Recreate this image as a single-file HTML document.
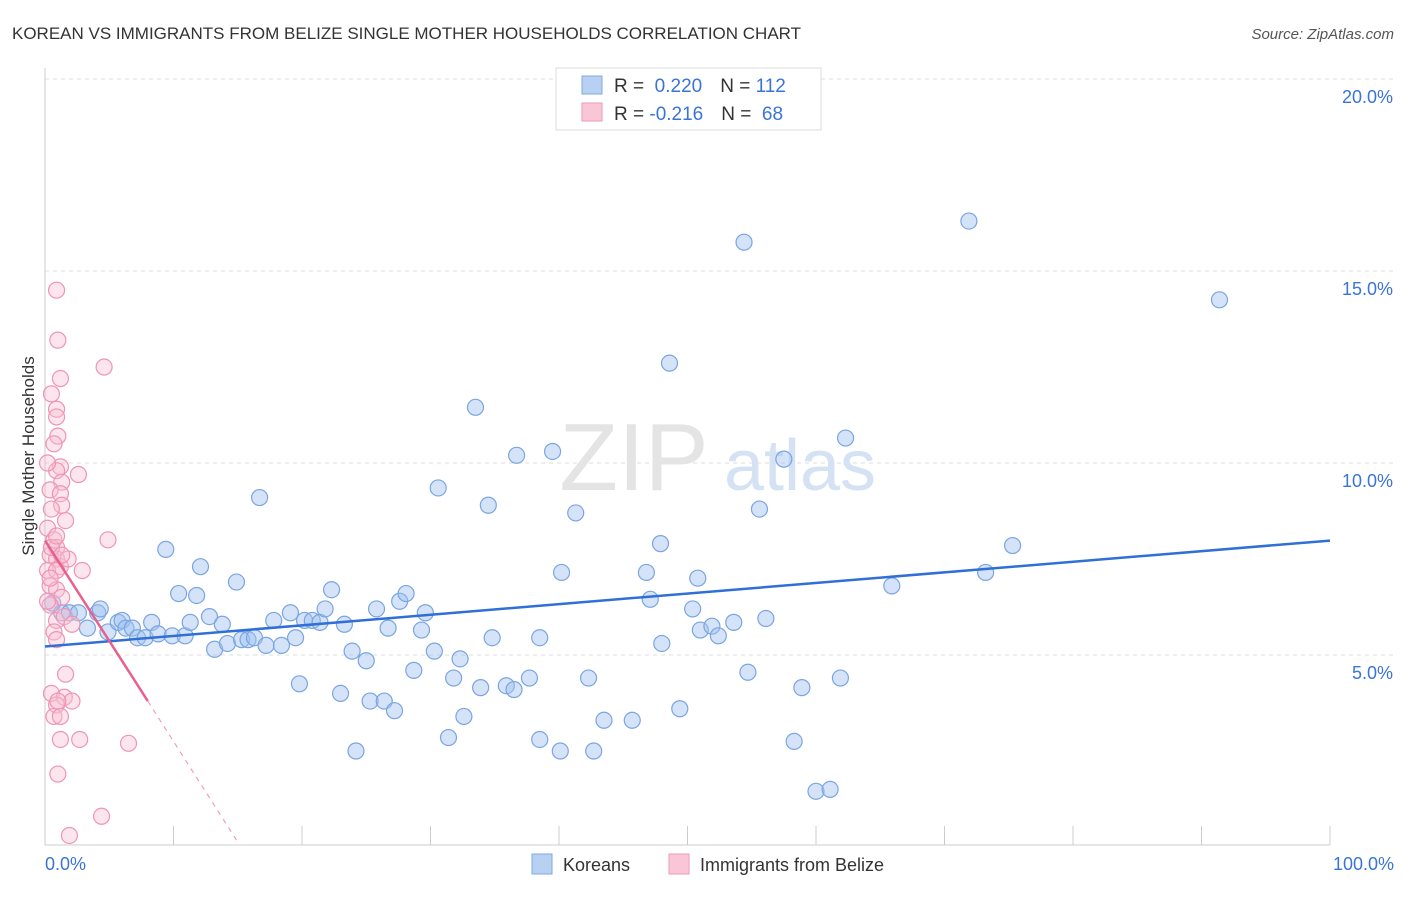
<!DOCTYPE html>
<html><head><meta charset="utf-8"><style>
body{margin:0;background:#fff;font-family:"Liberation Sans",sans-serif;}
svg text{font-family:"Liberation Sans",sans-serif;}
</style></head><body>
<svg width="1406" height="892" id="chart">
<text x="12" y="39" font-size="17" fill="#333">KOREAN VS IMMIGRANTS FROM BELIZE SINGLE MOTHER HOUSEHOLDS CORRELATION CHART</text>
<text x="1394" y="39" font-size="15" fill="#555" font-style="italic" text-anchor="end">Source: ZipAtlas.com</text>
<text x="34" y="456" font-size="17" fill="#333" text-anchor="middle" transform="rotate(-90 34 456)">Single Mother Households</text>
<g id="grid"></g>
<g><text x="634" y="490" font-size="96" fill="#e4e4e4" font-family="Liberation Serif" text-anchor="middle">ZIP</text><text x="800" y="490" font-size="72" fill="#d5e2f4" text-anchor="middle">atlas</text></g>
<line x1="45" y1="68" x2="45" y2="845" stroke="#ccc"/>
<line x1="45" y1="845" x2="1330" y2="845" stroke="#ccc"/>
<g id="xticks"></g>
<g id="pts"></g>
<g id="trends"></g>
<text x="45" y="870" font-size="18" fill="#3a74d6">0.0%</text>
<text x="1394" y="870" font-size="18" fill="#3a74d6" text-anchor="end">100.0%</text>
<g>
<rect x="556" y="68" width="265" height="62" fill="#fff" stroke="#ddd"/>
<rect x="582" y="76" width="20" height="18" fill="#b8d0f2" stroke="#7fa8e0"/>
<rect x="582" y="103" width="20" height="18" fill="#f8c6d6" stroke="#ef9ab6"/>
<text x="614" y="92" font-size="19" fill="#333">R = <tspan fill="#3a74d6">&#160;0.220</tspan><tspan dx="18">N = </tspan><tspan fill="#3a74d6">112</tspan></text>
<text x="614" y="120" font-size="19" fill="#333">R = <tspan fill="#3a74d6">-0.216</tspan><tspan dx="18">N = </tspan><tspan fill="#3a74d6">&#160;68</tspan></text>
</g>
<g>
<rect x="532" y="854" width="20" height="20" fill="#b8d0f2" stroke="#7fa8e0"/>
<text x="563" y="871" font-size="18" fill="#333">Koreans</text>
<rect x="669" y="854" width="20" height="20" fill="#f8c6d6" stroke="#ef9ab6"/>
<text x="700" y="871" font-size="18" fill="#333">Immigrants from Belize</text>
</g>
</svg>
<script>
const yTicks=[5,10,15,20];
const xTickVals=[0,10,20,30,40,50,60,70,80,90,100];
const koreansX=[0.6,1.3,1.9,2.6,3.3,4.1,4.3,4.9,5.7,6.0,6.3,6.8,7.2,7.8,8.3,8.8,9.4,9.9,10.4,10.9,11.3,11.8,12.1,12.8,13.2,13.8,14.2,14.9,15.3,15.8,16.3,16.7,17.2,17.8,18.4,19.1,19.5,19.8,20.2,20.8,21.4,21.8,22.3,23.0,23.3,23.9,24.2,25.0,25.3,25.8,26.4,26.7,27.2,27.6,28.1,28.7,29.3,29.6,30.3,30.6,31.4,31.8,32.3,32.6,33.5,33.9,34.5,34.8,35.9,36.5,36.7,37.7,38.5,38.5,39.5,40.1,40.2,41.3,42.3,42.7,43.5,45.7,46.8,47.1,47.9,48.0,48.6,49.4,50.4,50.8,51.0,51.9,52.4,53.6,54.4,54.7,55.6,56.1,57.5,58.3,58.9,60.0,61.1,61.9,62.3,65.9,71.9,73.2,75.3,91.4];
const koreansY=[6.35,6.1,6.1,6.1,5.7,6.1,6.2,5.6,5.85,5.9,5.7,5.7,5.45,5.45,5.85,5.55,7.75,5.5,6.6,5.5,5.85,6.55,7.3,6.0,5.15,5.8,5.3,6.9,5.4,5.4,5.45,9.1,5.25,5.9,5.25,6.1,5.45,4.25,5.9,5.9,5.85,6.2,6.7,4.0,5.8,5.1,2.5,4.85,3.8,6.2,3.8,5.7,3.55,6.4,6.6,4.6,5.65,6.1,5.1,9.35,2.85,4.4,4.9,3.4,11.45,4.15,8.9,5.45,4.2,4.1,10.2,4.4,2.8,5.45,10.3,2.5,7.15,8.7,4.4,2.5,3.3,3.3,7.15,6.45,7.9,5.3,12.6,3.6,6.2,7.0,5.65,5.75,5.5,5.85,15.75,4.55,8.8,5.95,10.1,2.75,4.15,1.45,1.5,4.4,10.65,6.8,16.3,7.15,7.85,14.25];
const belizeX=[0.9,1.0,1.2,0.5,0.9,0.9,1.0,0.7,1.2,0.9,1.3,0.4,1.2,1.3,1.6,2.6,4.6,4.9,0.2,0.7,0.9,0.4,0.9,1.2,1.8,0.2,0.9,2.9,0.4,0.9,1.3,0.4,0.9,1.5,2.1,0.7,0.9,1.6,0.5,1.5,2.1,0.9,0.7,1.2,1.2,2.7,6.5,1.0,1.9,4.4,0.2,0.5,0.4,1.0,1.3,0.5,0.2,0.9];
const belizeY=[14.5,13.2,12.2,11.8,11.4,11.2,10.7,10.5,9.9,9.8,9.5,9.3,9.2,8.9,8.5,9.7,12.5,8.0,8.3,8.0,7.8,7.6,7.5,7.3,7.5,7.2,7.2,7.2,6.8,6.7,6.5,6.3,5.9,6.0,5.8,5.6,5.4,4.5,4.0,3.9,3.8,3.7,3.4,3.4,2.8,2.8,2.7,1.9,0.3,0.8,6.4,7.8,7.0,3.8,7.6,8.8,10.0,8.1];
const ns="http://www.w3.org/2000/svg";
function sx(v){return 45+v*12.85;}
function sy(v){return 847-v*38.4;}
const grid=document.getElementById('grid');
yTicks.forEach(t=>{
 const l=document.createElementNS(ns,'line');
 l.setAttribute('x1',45);l.setAttribute('x2',1394);l.setAttribute('y1',sy(t));l.setAttribute('y2',sy(t));
 l.setAttribute('stroke','#ddd');l.setAttribute('stroke-dasharray','4,4');
 
 
 grid.appendChild(l);
 const tx=document.createElementNS(ns,'text');
 tx.setAttribute('x',1393);tx.setAttribute('y',sy(t)+24);tx.setAttribute('text-anchor','end');
 tx.setAttribute('font-size','18');tx.setAttribute('fill','#3a74d6');tx.textContent=t.toFixed(1)+'%';
 
 
 grid.appendChild(tx);
});
const xt=document.getElementById('xticks');
xTickVals.forEach(t=>{
 const l=document.createElementNS(ns,'line');
 l.setAttribute('x1',sx(t));l.setAttribute('x2',sx(t));l.setAttribute('y1',826);l.setAttribute('y2',845);
 l.setAttribute('stroke','#ccc');
 
 
 xt.appendChild(l);
});
const pts=document.getElementById('pts');
function dot(x,y,fill,stroke,name){
 const c=document.createElementNS(ns,'circle');
 c.setAttribute('cx',sx(x));c.setAttribute('cy',sy(y));c.setAttribute('r',8);
 c.setAttribute('fill',fill);c.setAttribute('stroke',stroke);c.setAttribute('stroke-width','1.2');
 
 
 pts.appendChild(c);
}
koreansX.forEach((x,i)=>dot(x,koreansY[i],'rgba(160,192,238,0.45)','#7aa5e2','korean-point'));
belizeX.forEach((x,i)=>dot(x,belizeY[i],'rgba(248,190,210,0.4)','#ef94b4','belize-point'));
const tr=document.getElementById('trends');
function line(x1,y1,x2,y2,color,w,dash,name){
 const l=document.createElementNS(ns,'line');
 l.setAttribute('x1',sx(x1));l.setAttribute('y1',sy(y1));l.setAttribute('x2',sx(x2));l.setAttribute('y2',sy(y2));
 l.setAttribute('stroke',color);l.setAttribute('stroke-width',w);
 if(dash)l.setAttribute('stroke-dasharray',dash);
 
 
 tr.appendChild(l);
}
line(0,5.22,100,7.98,'#2f6fd6',2.5,null,'korean-trendline');
line(0,7.98,8.0,3.8,'#e8608e',2.5,null,'belize-trendline');
line(8.0,3.8,14.9,0.18,'#f0a0bb',1.2,'5,5','belize-trendline-extension');
</script>
</body></html>
